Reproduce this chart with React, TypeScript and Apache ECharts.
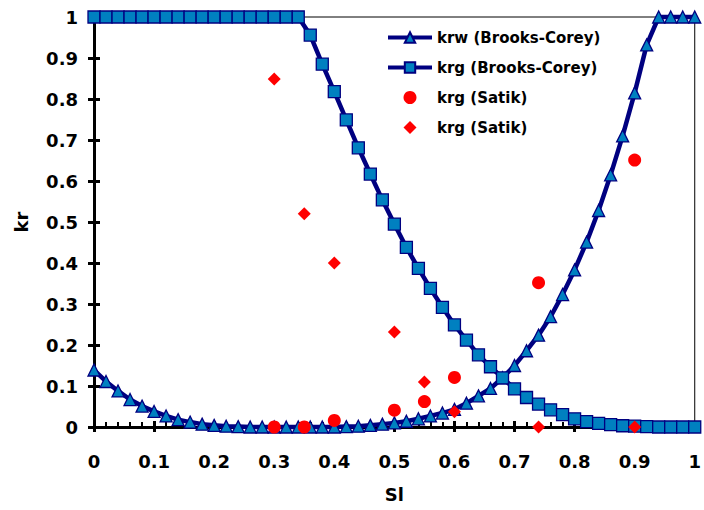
import React, { useEffect, useRef } from "react";
import * as echarts from "echarts";

const sl = [
  0, 0.02, 0.04, 0.06, 0.08, 0.1, 0.12, 0.14, 0.16, 0.18, 0.2, 0.22, 0.24, 0.26, 0.28, 0.3, 0.32, 0.34,
  0.36, 0.38, 0.4, 0.42, 0.44, 0.46, 0.48, 0.5, 0.52, 0.54, 0.56, 0.58, 0.6, 0.62, 0.64, 0.66, 0.68,
  0.7, 0.72, 0.74, 0.76, 0.78, 0.8, 0.82, 0.84, 0.86, 0.88, 0.9, 0.92, 0.94, 0.96, 0.98, 1,
];

const krwBC = [
  0.139, 0.111, 0.088, 0.067, 0.051, 0.038, 0.027, 0.018, 0.012, 0.007, 0.004, 0.002, 0.001, 0, 0, 0, 0, 0,
  0, 0, 0, 0.001, 0.002, 0.004, 0.007, 0.01, 0.014, 0.02, 0.027, 0.034, 0.043, 0.058, 0.076, 0.094, 0.12,
  0.15, 0.186, 0.224, 0.269, 0.323, 0.383, 0.451, 0.528, 0.615, 0.71, 0.815, 0.932, 1, 1, 1, 1,
];

const krgBC = [
  1, 1, 1, 1, 1, 1, 1, 1, 1, 1, 1, 1, 1, 1, 1, 1, 1, 1,
  0.956, 0.885, 0.818, 0.749, 0.681, 0.617, 0.554, 0.495, 0.438, 0.387, 0.338, 0.292, 0.249, 0.212, 0.176, 0.147, 0.12,
  0.093, 0.072, 0.056, 0.042, 0.03, 0.02, 0.013, 0.009, 0.006, 0.003, 0.002, 0.001, 0, 0, 0, 0,
];

const satikCircleX = [0.3, 0.35, 0.4, 0.5, 0.55, 0.6, 0.74, 0.9];
const satikCircleY = [0, 0, 0.016, 0.041, 0.062, 0.121, 0.352, 0.651];

const satikDiamondX = [0.3, 0.35, 0.4, 0.5, 0.55, 0.6, 0.74, 0.9];
const satikDiamondY = [0.849, 0.52, 0.4, 0.232, 0.11, 0.037, 0, 0];

const seriesNames = ["krw (Brooks-Corey)", "krg (Brooks-Corey)", "krg (Satik)", "krg (Satik) "];

const FONT = "'DejaVu Sans', 'Liberation Sans', Arial, sans-serif";
const NAVY = "#000080";
const FILL = "#0080C0";
const DIAMOND_ICON = "path://M0,1L1,0L2,1L1,2Z";

export default function App() {
  const ref = useRef<HTMLDivElement>(null);

  useEffect(() => {
    if (!ref.current) return;
    const chart = echarts.init(ref.current, null, { renderer: "svg" });
    const pair = (xs: number[], ys: number[]) => xs.map((x, i) => [x, ys[i]]);
    const axisLabel = { color: "#000", fontFamily: FONT, fontWeight: "bold" as const, fontSize: 18 };

    chart.setOption({
      animation: false,
      backgroundColor: "#fff",
      grid: {
        left: 94,
        top: 17,
        width: 608,
        height: 410,
        show: true,
        borderColor: "#000",
        borderWidth: 1,
        backgroundColor: "transparent",
      },
      legend: {
        orient: "vertical",
        left: 381,
        top: 25,
        itemWidth: 44,
        itemHeight: 13,
        itemGap: 15,
        symbolKeepAspect: true,
        lineStyle: { width: 4, color: NAVY },
        textStyle: { color: "#000", fontFamily: FONT, fontWeight: "bold", fontSize: 15 },
        data: [
          { name: seriesNames[0] },
          { name: seriesNames[1] },
          { name: seriesNames[2], icon: "circle", itemStyle: { opacity: 1 } },
          { name: seriesNames[3], icon: DIAMOND_ICON, itemStyle: { opacity: 1 } },
        ],
      },
      xAxis: [
        {
          type: "value",
          min: 0,
          max: 1,
          interval: 0.1,
          name: "Sl",
          nameLocation: "middle",
          nameGap: 58,
          nameTextStyle: { color: "#000", fontFamily: FONT, fontWeight: "bold", fontSize: 18 },
          axisLine: { show: true, onZero: false, lineStyle: { color: "#000", width: 3 } },
          axisTick: { show: true, inside: true, length: 6, lineStyle: { color: "#000", width: 3 } },
          minorTick: { show: true, splitNumber: 5, length: 5, lineStyle: { color: "#000", width: 2 } },
          axisLabel: { ...axisLabel, margin: 25 },
          splitLine: { show: false },
        },
        {
          type: "value",
          min: 0,
          max: 1,
          interval: 0.1,
          position: "bottom",
          axisLine: { show: false },
          axisTick: { show: true, inside: false, length: 5, lineStyle: { color: "#000", width: 3 } },
          axisLabel: { show: false },
          splitLine: { show: false },
        },
      ],
      yAxis: [
        {
          type: "value",
          min: 0,
          max: 1,
          interval: 0.1,
          name: "kr",
          nameLocation: "middle",
          nameGap: 64,
          nameTextStyle: { color: "#000", fontFamily: FONT, fontWeight: "bold", fontSize: 18 },
          axisLine: { show: true, onZero: false, lineStyle: { color: "#000", width: 3 } },
          axisTick: { show: true, inside: true, length: 6, lineStyle: { color: "#000", width: 3 } },
          axisLabel: { ...axisLabel, margin: 16 },
          splitLine: { show: false },
        },
        {
          type: "value",
          min: 0,
          max: 1,
          interval: 0.1,
          position: "left",
          axisLine: { show: false },
          axisTick: { show: true, inside: false, length: 6, lineStyle: { color: "#000", width: 3 } },
          axisLabel: { show: false },
          splitLine: { show: false },
        },
      ],
      series: [
        {
          name: seriesNames[0],
          type: "line",
          data: pair(sl, krwBC),
          symbol: "triangle",
          symbolSize: 12,
          clip: false,
          lineStyle: { color: NAVY, width: 4.5 },
          itemStyle: { color: FILL, borderColor: NAVY, borderWidth: 1.3 },
          z: 3,
        },
        {
          name: seriesNames[1],
          type: "line",
          data: pair(sl, krgBC),
          symbol: "rect",
          symbolSize: 12,
          clip: false,
          lineStyle: { color: NAVY, width: 4.5 },
          itemStyle: { color: FILL, borderColor: NAVY, borderWidth: 1.3 },
          z: 3,
        },
        {
          name: seriesNames[2],
          type: "scatter",
          data: pair(satikCircleX, satikCircleY),
          symbol: "circle",
          symbolSize: 13,
          clip: false,
          itemStyle: { color: "#FF0000", opacity: 1 },
          z: 4,
        },
        {
          name: seriesNames[3],
          type: "scatter",
          data: pair(satikDiamondX, satikDiamondY),
          symbol: "diamond",
          symbolSize: 13,
          clip: false,
          itemStyle: { color: "#FF0000", opacity: 1 },
          z: 4,
        },
      ],
    });

    return () => chart.dispose();
  }, []);

  return (
    <div
      ref={ref}
      style={{ position: "fixed", left: 0, top: 0, width: 704, height: 510, background: "#fff" }}
    />
  );
}
